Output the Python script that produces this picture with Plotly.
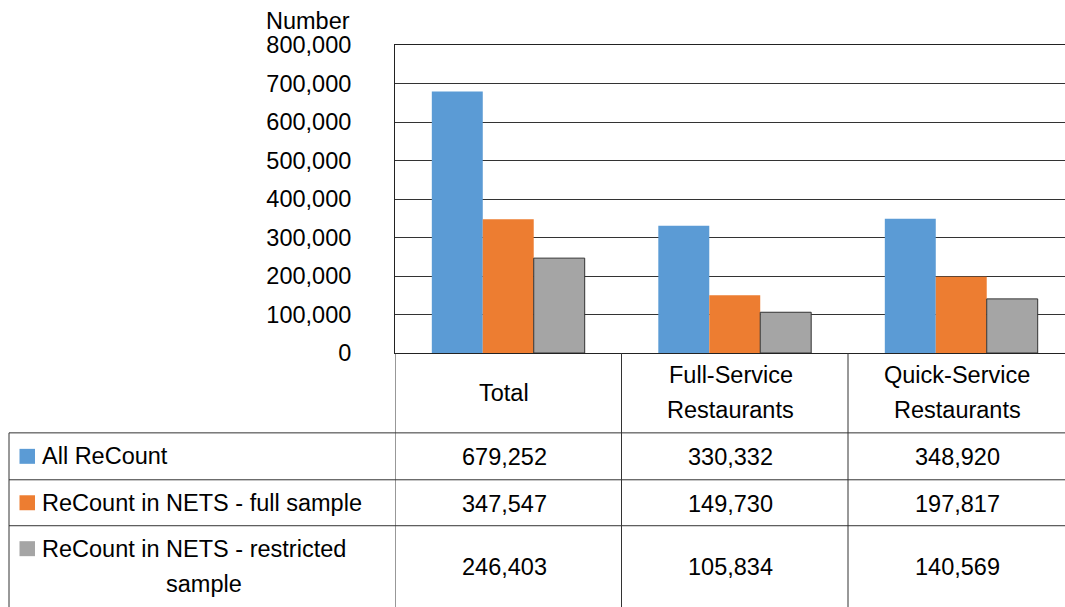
import textwrap
import plotly.graph_objects as go

# ---- data ----
categories = ["Total", "Full-Service Restaurants", "Quick-Service Restaurants"]
series_names = ["All ReCount", "ReCount in NETS - full sample", "ReCount in NETS - restricted sample"]
all_recount = [679252, 330332, 348920]
nets_full = [347547, 149730, 197817]
nets_restricted = [246403, 105834, 140569]
y_tick_vals = [0, 100000, 200000, 300000, 400000, 500000, 600000, 700000, 800000]
y_tick_text = ["0", "100,000", "200,000", "300,000", "400,000", "500,000", "600,000", "700,000", "800,000"]
y_title = "Number"

series_values = [all_recount, nets_full, nets_restricted]
colors = ["#5B9BD5", "#ED7D31", "#A5A5A5"]
line_colors = ["rgba(0,0,0,0)", "rgba(0,0,0,0)", "#333333"]
line_widths = [0, 0, 1]

W, H = 1065, 607
L, R = 395, 1065             # plot area left/right (pixels)
T, B = 44.5, 353             # plot area top/bottom (pixels)
FONT = "Liberation Sans, Arial, Helvetica, sans-serif"
FS = 23.5
n = len(categories)
cat_w = 226.5
x_max = (R - L) / cat_w - 0.5
TXT_SHIFT = -4


def px_x(p):
    return (p - L) / (R - L)


def px_y(p):
    return (B - p) / (B - T)


fig = go.Figure()
for name, vals, c, lc, lw in zip(series_names, series_values, colors, line_colors, line_widths):
    fig.add_trace(go.Bar(x=list(range(n)), y=vals, name=name,
                         marker=dict(color=c, line=dict(color=lc, width=lw))))

shapes = []
annotations = []
line_style = dict(color="#333333", width=1)

# table grid
row_edges = [433, 480, 526, 607]
for yy in row_edges[:-1]:
    shapes.append(dict(type="line", xref="paper", yref="paper",
                       x0=px_x(9), x1=px_x(R + 10), y0=px_y(yy), y1=px_y(yy), line=line_style))
shapes.append(dict(type="line", xref="paper", yref="paper",
                   x0=px_x(9), x1=px_x(9), y0=px_y(433), y1=px_y(H + 5), line=line_style))
for i in range(n):
    shapes.append(dict(type="line", xref="x", yref="paper",
                       x0=i - 0.5, x1=i - 0.5, y0=px_y(B), y1=px_y(H + 5), line=line_style))

# category header
for i, cat in enumerate(categories):
    parts = cat.split(" ")
    lh = 35
    y0 = (B + 433) / 2 - (len(parts) - 1) * lh / 2
    for k, p in enumerate(parts):
        annotations.append(dict(x=i, y=px_y(y0 + k * lh), xref="x", yref="paper",
                                text=p, showarrow=False, xanchor="center", yanchor="middle",
                                xshift=TXT_SHIFT,
                                font=dict(size=FS, color="black", family=FONT)))

# legend + values rows
for r, (name, vals, c) in enumerate(zip(series_names, series_values, colors)):
    top, bot = row_edges[r], row_edges[r + 1]
    mid = (top + bot) / 2
    lines = textwrap.wrap(name, 30)
    lh = 35
    first_y = mid - (len(lines) - 1) * lh / 2
    shapes.append(dict(type="rect", xref="paper", yref="paper",
                       x0=px_x(19.5), x1=px_x(35), y0=px_y(first_y - 7.5), y1=px_y(first_y + 7.5),
                       fillcolor=c, line=dict(width=0)))
    for k, ln in enumerate(lines):
        if k == 0:
            annotations.append(dict(x=px_x(40), y=px_y(first_y), xref="paper", yref="paper",
                                    text=ln, showarrow=False, xanchor="left", yanchor="middle",
                                    font=dict(size=FS, color="black", family=FONT)))
        else:
            annotations.append(dict(x=px_x(204), y=px_y(first_y + k * lh), xref="paper", yref="paper",
                                    text=ln, showarrow=False, xanchor="center", yanchor="middle",
                                    font=dict(size=FS, color="black", family=FONT)))
    for i, v in enumerate(vals):
        annotations.append(dict(x=i, y=px_y(mid + 1), xref="x", yref="paper",
                                text=f"{v:,}", showarrow=False, xanchor="center", yanchor="middle",
                                xshift=TXT_SHIFT,
                                font=dict(size=FS, color="black", family=FONT)))

# y-axis title
annotations.append(dict(x=px_x(264), y=px_y(20), xref="paper", yref="paper",
                        text=y_title, showarrow=False, xanchor="left", yanchor="middle",
                        font=dict(size=FS, color="black", family=FONT)))

fig.update_layout(
    width=W, height=H,
    margin=dict(l=L, r=W - R, t=T, b=H - B, pad=0),
    paper_bgcolor="white", plot_bgcolor="white",
    barmode="group", bargap=0.325, bargroupgap=0,
    showlegend=False,
    font=dict(family=FONT, size=FS, color="black"),
    xaxis=dict(range=[-0.5, x_max], showticklabels=False, showgrid=False, zeroline=False,
               showline=True, linecolor="#222222", linewidth=1, mirror=True, ticks="", fixedrange=True),
    yaxis=dict(range=[0, 800000], tickvals=y_tick_vals, ticktext=y_tick_text,
               showgrid=True, gridcolor="#333333", gridwidth=1, zeroline=False,
               showline=True, linecolor="#222222", linewidth=1, ticks="",
               ticklabelstandoff=38, tickfont=dict(size=FS, color="black", family=FONT),
               fixedrange=True),
    shapes=shapes, annotations=annotations,
)

fig.write_html(
    "out.html",
    config={"displayModeBar": False},
    post_script="document.body.style.margin='0';document.body.style.overflow='hidden';",
)
